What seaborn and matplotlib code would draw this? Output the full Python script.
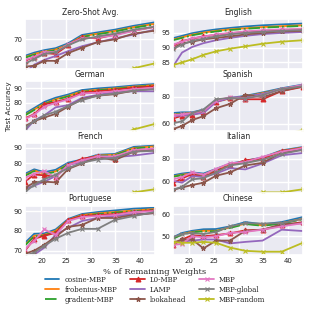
import seaborn as sns
import matplotlib.pyplot as plt
import pandas as pd

# % of remaining weights (x axis)
sparsity = [16.68, 18.53, 20.59, 22.88, 25.42, 28.24, 31.38, 34.87, 38.74, 43.05]

methods = ['cosine-MBP', 'frobenius-MBP', 'gradient-MBP', 'L0-MBP', 'LAMP',
           'lookahead', 'MBP', 'MBP-global', 'MBP-random']

# one row per method, same order as `methods`
zero_shot = [
    [61.6, 63.2, 64.5, 65.5, 68.0, 72.3, 73.6, 75.0, 77.0, 78.8],
    [60.9, 62.5, 63.8, 64.8, 67.3, 71.6, 72.9, 74.3, 76.3, 78.0],
    [60.6, 62.2, 63.5, 64.5, 67.0, 71.3, 72.6, 74.0, 76.0, 77.7],
    [59.0, 61.0, 63.0, 62.5, 67.0, 71.0, 70.5, 72.5, 74.5, 76.5],
    [53.0, 57.0, 59.5, 61.5, 64.0, 66.5, 68.5, 70.5, 72.5, 75.0],
    [56.0, 56.5, 59.0, 59.0, 63.0, 65.7, 68.6, 70.0, 73.0, 74.5],
    [59.5, 61.0, 63.5, 63.5, 67.5, 70.5, 71.0, 72.0, 74.5, 76.5],
    [57.5, 60.0, 62.5, 63.5, 67.0, 70.0, 71.5, 73.0, 75.0, 76.5],
    [30.0, 35.0, 38.0, 41.0, 44.0, 47.0, 50.0, 52.0, 55.2, 57.7],
]
english = [
    [93.2, 94.0, 94.9, 95.6, 96.2, 96.7, 97.2, 97.6, 97.9, 98.2],
    [92.7, 93.5, 94.4, 95.1, 95.7, 96.2, 96.6, 97.0, 97.3, 97.6],
    [92.5, 93.3, 94.2, 94.9, 95.5, 96.0, 96.4, 96.8, 97.1, 97.4],
    [90.5, 92.2, 93.0, 93.8, 94.3, 94.9, 95.3, 95.7, 96.0, 96.2],
    [83.5, 88.3, 90.2, 91.5, 92.5, 93.3, 94.0, 94.6, 95.0, 95.3],
    [89.8, 91.4, 92.0, 92.8, 93.3, 93.8, 94.5, 95.0, 95.5, 95.7],
    [91.0, 92.0, 93.2, 93.7, 94.5, 94.9, 95.5, 95.9, 96.2, 96.3],
    [89.5, 91.0, 92.3, 93.0, 93.8, 94.5, 95.0, 95.4, 95.7, 96.0],
    [84.0, 84.9, 86.0, 87.5, 88.7, 89.6, 90.4, 91.3, 92.0, 92.5],
]
german = [
    [72.8, 76.5, 80.7, 83.6, 85.8, 88.9, 90.0, 90.8, 92.0, 93.0],
    [71.8, 75.5, 79.5, 82.5, 84.8, 88.0, 89.0, 90.0, 91.2, 92.3],
    [71.5, 75.2, 79.2, 82.2, 84.5, 87.7, 88.7, 89.7, 90.9, 92.0],
    [69.5, 72.3, 79.0, 80.7, 83.0, 87.3, 88.0, 89.1, 90.5, 91.5],
    [61.0, 68.0, 71.5, 77.0, 78.5, 83.5, 85.5, 87.5, 88.0, 88.0],
    [64.0, 67.5, 70.0, 72.5, 77.5, 82.5, 85.0, 86.0, 88.5, 90.0],
    [69.0, 72.0, 77.5, 80.0, 82.5, 86.5, 87.0, 88.0, 89.5, 90.5],
    [63.0, 67.5, 71.5, 74.0, 78.0, 82.0, 85.0, 86.5, 88.5, 89.5],
    [35.0, 38.0, 41.0, 44.0, 47.0, 50.0, 53.0, 56.0, 61.8, 65.6],
]
spanish = [
    [68.0, 68.5, 68.5, 70.5, 77.0, 79.0, 80.5, 83.0, 86.0, 88.7],
    [67.0, 67.5, 68.0, 70.0, 76.5, 78.5, 80.0, 82.5, 85.5, 88.0],
    [66.8, 67.3, 67.8, 69.8, 76.3, 78.3, 79.8, 82.3, 85.3, 87.8],
    [64.0, 66.0, 66.5, 69.0, 76.0, 79.0, 78.0, 78.0, 84.0, 87.0],
    [66.0, 66.0, 67.0, 68.0, 76.0, 79.0, 80.0, 82.0, 85.5, 88.0],
    [56.3, 58.6, 62.9, 65.7, 71.5, 74.6, 81.2, 79.5, 84.0, 87.5],
    [66.5, 67.0, 68.0, 69.5, 77.0, 79.5, 78.5, 81.0, 85.5, 88.5],
    [60.5, 62.0, 68.0, 70.5, 78.0, 79.0, 78.5, 81.0, 85.5, 87.5],
    [25.0, 28.0, 31.0, 34.0, 37.0, 40.0, 44.0, 48.0, 52.0, 55.6],
]
french = [
    [73.5, 76.3, 74.5, 76.0, 80.5, 82.5, 85.5, 86.0, 90.5, 91.3],
    [72.5, 75.5, 73.5, 75.0, 79.5, 82.0, 85.0, 85.5, 89.8, 90.8],
    [72.2, 75.2, 73.2, 74.7, 79.2, 81.7, 84.7, 85.2, 89.5, 90.5],
    [68.5, 73.0, 72.5, 71.5, 79.0, 83.0, 84.5, 83.0, 88.5, 89.0],
    [64.0, 66.0, 68.5, 72.0, 79.0, 81.0, 83.5, 84.0, 85.0, 86.7],
    [64.5, 68.0, 68.5, 68.0, 76.5, 80.0, 84.0, 82.1, 87.5, 88.5],
    [71.0, 73.5, 75.2, 71.0, 79.0, 82.0, 84.5, 84.5, 88.5, 89.5],
    [62.0, 66.5, 70.0, 73.0, 77.0, 80.5, 82.5, 83.5, 87.5, 88.0],
    [35.0, 38.0, 41.0, 44.0, 47.0, 50.0, 54.0, 58.0, 61.7, 63.7],
]
italian = [
    [65.5, 67.0, 68.0, 67.0, 71.0, 75.5, 78.0, 81.0, 87.0, 90.0],
    [64.5, 66.0, 67.0, 66.0, 70.5, 75.0, 77.5, 80.5, 86.5, 89.5],
    [64.2, 65.7, 66.7, 65.7, 70.2, 74.7, 77.2, 80.2, 86.2, 89.2],
    [58.6, 62.9, 66.5, 64.0, 69.0, 74.0, 78.5, 80.0, 86.5, 89.0],
    [60.8, 59.1, 64.8, 64.0, 67.0, 71.7, 70.6, 75.7, 82.8, 84.8],
    [52.9, 55.0, 57.1, 59.1, 65.1, 68.0, 74.0, 76.3, 85.0, 88.0],
    [62.0, 64.0, 68.0, 66.0, 71.0, 76.0, 77.0, 81.5, 86.0, 89.0],
    [53.0, 55.5, 62.0, 63.0, 68.0, 74.0, 76.0, 79.0, 84.0, 87.5],
    [30.0, 33.0, 36.0, 39.0, 42.0, 45.0, 48.0, 50.7, 50.7, 53.4],
]
portuguese = [
    [74.0, 78.5, 78.7, 80.7, 86.0, 88.5, 89.5, 90.3, 91.2, 91.7],
    [73.0, 77.5, 78.0, 80.0, 85.5, 88.0, 88.8, 89.5, 90.3, 91.0],
    [72.7, 77.2, 77.7, 79.7, 85.2, 87.7, 88.5, 89.2, 90.0, 90.7],
    [70.0, 76.0, 77.5, 79.0, 85.5, 87.5, 88.0, 88.5, 89.5, 90.5],
    [67.0, 68.0, 71.5, 78.0, 81.5, 85.0, 86.5, 87.5, 88.5, 89.0],
    [68.5, 70.0, 73.0, 77.0, 82.0, 83.0, 86.5, 86.5, 88.0, 89.0],
    [71.0, 75.0, 80.7, 78.0, 85.0, 87.0, 87.5, 88.0, 89.5, 90.0],
    [67.5, 69.0, 72.5, 76.0, 79.0, 81.0, 81.0, 85.5, 87.5, 89.5],
    [35.0, 38.0, 41.0, 44.0, 47.0, 50.0, 53.0, 56.0, 59.0, 62.0],
]
chinese = [
    [49.5, 51.5, 52.5, 53.2, 53.3, 54.5, 56.5, 55.5, 56.5, 58.8],
    [49.0, 51.0, 52.0, 52.5, 52.5, 54.0, 55.8, 55.0, 56.0, 58.0],
    [48.8, 50.8, 51.8, 52.3, 52.3, 53.8, 55.6, 54.8, 55.8, 57.8],
    [46.0, 48.5, 50.5, 50.0, 50.5, 51.3, 52.7, 53.0, 55.0, 56.5],
    [47.0, 47.5, 48.0, 48.5, 48.5, 46.7, 47.4, 48.0, 53.0, 52.4],
    [47.0, 48.5, 48.5, 44.4, 48.0, 48.0, 52.5, 53.0, 55.5, 56.0],
    [46.0, 46.5, 50.0, 49.5, 50.0, 51.5, 52.0, 53.0, 54.5, 56.0],
    [49.5, 51.0, 51.5, 51.0, 52.0, 54.5, 56.0, 55.8, 56.0, 58.0],
    [47.4, 47.0, 47.0, 47.4, 47.0, 44.8, 43.3, 42.9, 42.9, 47.0],
]

panel_titles = ['Zero-Shot Avg.', 'English', 'German', 'Spanish',
                'French', 'Italian', 'Portuguese', 'Chinese']
panel_data = [zero_shot, english, german, spanish,
              french, italian, portuguese, chinese]
panel_ylims = [(55, 80.4), (82.8, 99.7), (60.9, 94.9), (55.1, 91.1),
               (61.4, 92.7), (50.3, 93.1), (67.8, 92.8), (41.4, 64.1)]
panel_yticks = [[60, 70], [85, 90, 95], [70, 80, 90], [60, 80],
                [70, 80, 90], [60, 80], [70, 80, 90], [50, 60]]

palette = sns.color_palette()
styles = {
    'cosine-MBP': dict(marker='', linestyle='-'),
    'frobenius-MBP': dict(marker='', linestyle='-'),
    'gradient-MBP': dict(marker='', linestyle='-.'),
    'L0-MBP': dict(marker='^', linestyle='-'),
    'LAMP': dict(marker='', linestyle='-'),
    'lookahead': dict(marker='*', linestyle='-'),
    'MBP': dict(marker='x', linestyle='-'),
    'MBP-global': dict(marker='x', linestyle='-'),
    'MBP-random': dict(marker='x', linestyle='-'),
}

sns.set_theme(style='darkgrid')
fig, axes = plt.subplots(4, 2, figsize=(3.1, 3.14), dpi=100, sharex=True)
fig.subplots_adjust(left=0.081, right=0.977, top=0.939, bottom=0.188,
                    hspace=0.256, wspace=0.138)

for ax, title, rows, ylim, yt in zip(axes.flatten(), panel_titles, panel_data,
                                     panel_ylims, panel_yticks):
    for i, (name, vals) in enumerate(zip(methods, rows)):
        df = pd.DataFrame({'x': sparsity, 'y': vals})
        sns.lineplot(data=df, x='x', y='y', ax=ax, color=palette[i],
                     linewidth=1.3, markersize=3.5, markeredgewidth=0.8,
                     markeredgecolor=palette[i],
                     label=name, legend=False, **styles[name])
    ax.set_title(title, fontsize=5.5, pad=3)
    ax.set_xlim(sparsity[0], sparsity[-1])
    ax.set_ylim(*ylim)
    ax.set_yticks(yt)
    ax.set_xticks([20, 25, 30, 35, 40])
    ax.tick_params(labelsize=5, pad=2, length=0)
    ax.set_xlabel('')
    ax.set_ylabel('')

axes[1, 0].set_ylabel('Test Accuracy', fontsize=5.2)
axes[1, 0].yaxis.set_label_coords(-0.1, 0.5)
fig.text(0.5, 0.135, '% of Remaining Weights', ha='center', va='center',
         fontsize=6, family='DejaVu Serif')

handles, labels = axes[0, 0].get_legend_handles_labels()
fig.legend(handles, labels, loc='upper center', bbox_to_anchor=(0.5, 0.133),
           ncol=3, frameon=False, prop=dict(family='DejaVu Serif', size=5),
           handlelength=2.1, columnspacing=1.9, labelspacing=0.3,
           handletextpad=0.7, borderpad=0)

fig.savefig('out.png', dpi=100)
